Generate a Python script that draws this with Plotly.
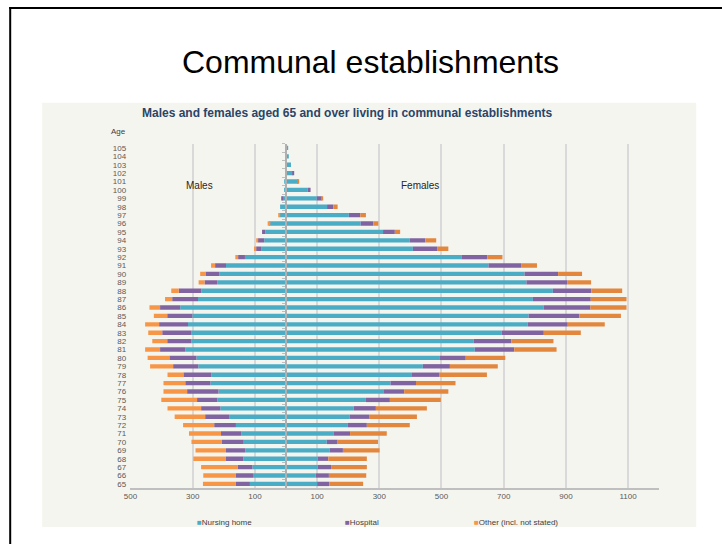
import plotly.graph_objects as go

# Ages 65 .. 105
ages = list(range(65, 106))

# Males (people), by age 65..105
male_nursing = [116, 106, 108, 137, 131, 136, 144, 161, 183, 211, 221, 217, 243, 240, 282, 288,
                324, 304, 305, 315, 301, 340, 283, 272, 221, 214, 193, 132, 80, 70, 66, 51,
                21, 19, 11, 6, 4, 1, 2, 2, 1]
male_hospital = [45, 55, 48, 56, 62, 70, 65, 70, 77, 62, 65, 101, 81, 90, 81, 87,
                 81, 78, 93, 93, 81, 65, 83, 73, 41, 45, 35, 22, 16, 20, 11, 2,
                 0, 0, 3, 0, 0, 0, 0, 0, 0]
male_other = [106, 105, 117, 105, 98, 98, 103, 100, 98, 108, 115, 76, 70, 51, 74, 70,
              48, 48, 45, 45, 43, 34, 23, 24, 19, 17, 13, 9, 7, 4, 0, 6,
              3, 0, 0, 0, 0, 0, 0, 0, 0]

# Females (people), by age 65..105
female_nursing = [100, 95, 102, 102, 140, 131, 154, 199, 204, 218, 257, 315, 336, 405, 440, 495,
                  607, 604, 694, 777, 780, 829, 794, 858, 773, 767, 651, 564, 408, 398, 312, 240,
                  202, 132, 99, 70, 36, 22, 16, 9, 7]
female_hospital = [39, 43, 43, 34, 43, 35, 52, 61, 63, 71, 77, 65, 82, 89, 87, 83,
                   127, 121, 135, 129, 163, 150, 186, 124, 131, 108, 105, 83, 78, 50, 38, 41,
                   37, 20, 16, 9, 2, 3, 0, 0, 0]
female_other = [109, 120, 115, 124, 118, 130, 118, 138, 154, 164, 164, 142, 127, 152, 154, 127,
                136, 135, 119, 119, 134, 116, 115, 99, 77, 77, 51, 49, 36, 35, 17, 16,
                18, 14, 2, 0, 3, 0, 0, 0, 0]

x_ticks = [-500, -300, -100, 100, 300, 500, 700, 900, 1100]
x_ticktext = [str(abs(v)) for v in x_ticks]

C_NURSE = "#4bacc6"
C_HOSP = "#8064a2"
C_OTHER_M = "#f79646"
C_OTHER_F = "#e3873f"
FONT = "Liberation Sans, Arial, sans-serif"

W, H = 722, 545
def px(x):
    # horizontal page position (pixels) -> paper fraction
    return ((x - 5.8) / 0.9917) / W
def py(y):
    return 1 - y / H

fig = go.Figure()

def neg(lst):
    return [-v for v in lst]

series = [
    ("Nursing home", neg(male_nursing), C_NURSE),
    ("Hospital", neg(male_hospital), C_HOSP),
    ("Other (incl. not stated)", neg(male_other), C_OTHER_M),
    ("Nursing home", female_nursing, C_NURSE),
    ("Hospital", female_hospital, C_HOSP),
    ("Other (incl. not stated)", female_other, C_OTHER_F),
]
for name, vals, col in series:
    fig.add_trace(go.Bar(
        y=ages, x=vals, orientation="h", name=name,
        marker=dict(color=col, line=dict(width=0)),
        showlegend=False,
    ))

# helper trace for the central (zero) category axis
fig.add_trace(go.Scatter(x=[None], y=[None], yaxis="y2", showlegend=False,
                         hoverinfo="skip", mode="markers"))

half_ticks = [a - 0.5 for a in ages] + [ages[-1] + 0.5]

x0_dom, x1_dom = px(130), px(659)
x_range = [-501, 1200]
zero_pos = x0_dom + (0 - x_range[0]) / (x_range[1] - x_range[0]) * (x1_dom - x0_dom)

fig.update_layout(
    width=W, height=H,
    margin=dict(l=0, r=0, t=0, b=0),
    paper_bgcolor="white",
    plot_bgcolor="rgba(0,0,0,0)",
    barmode="relative",
    bargap=0.48,
    font=dict(family=FONT, color="#404040"),
    xaxis=dict(
        domain=[x0_dom, x1_dom],
        range=x_range,
        tickmode="array", tickvals=x_ticks, ticktext=x_ticktext,
        showgrid=True, gridcolor="#d9d9d9", gridwidth=1.5,
        showline=True, linecolor="#bfbfbf", linewidth=1.5,
        zeroline=False, ticks="",
        tickfont=dict(size=8, color="#595959", family=FONT),
        fixedrange=True,
    ),
    yaxis=dict(
        domain=[py(489), py(144)],
        range=[64.5, 105.5],
        tickmode="array", tickvals=ages, ticktext=[str(a) for a in ages],
        showgrid=False, zeroline=False, showline=False, ticks="",
        ticklabelstandoff=3,
        tickfont=dict(size=8, color="#595959", family=FONT),
        fixedrange=True,
    ),
    yaxis2=dict(
        overlaying="y", anchor="free", position=zero_pos, side="left",
        range=[64.5, 105.5],
        tickmode="array", tickvals=half_ticks,
        showticklabels=False, ticks="outside", ticklen=3, tickwidth=1,
        tickcolor="#bfbfbf",
        showline=True, linecolor="#b0b0b0", linewidth=1.5,
        showgrid=False, zeroline=False, fixedrange=True,
    ),
    showlegend=False,
)

shapes = [
    dict(type="rect", xref="paper", yref="paper", x0=px(42), x1=px(696),
         y0=py(528), y1=py(103), fillcolor="#f5f5ef", line=dict(width=0), layer="below"),
    dict(type="line", xref="paper", yref="paper", x0=px(10), x1=px(10),
         y0=0, y1=py(7), line=dict(color="black", width=2)),
    dict(type="line", xref="paper", yref="paper", x0=px(9), x1=1,
         y0=py(8), y1=py(8), line=dict(color="black", width=2)),
]
fig.update_layout(shapes=shapes)

ann = [
    dict(text="Communal establishments", x=px(370), y=py(62), font=dict(size=32, color="black", family=FONT)),
    dict(text="<b>Males and females aged 65 and over living in communal establishments</b>",
         x=px(347), y=py(113), font=dict(size=12, color="#2a4468", family=FONT)),
    dict(text="Age", x=px(118), y=py(132), font=dict(size=8, color="#404040", family=FONT)),
    dict(text="Males", x=px(199), y=py(186), font=dict(size=10, color="#262626", family=FONT)),
    dict(text="Females", x=px(420), y=py(186), font=dict(size=10, color="#262626", family=FONT)),
    dict(text='<span style="color:%s">■</span>Nursing home' % C_NURSE, x=px(195), y=py(523),
         xanchor="left", font=dict(size=8, color="#404040", family=FONT)),
    dict(text='<span style="color:%s">■</span>Hospital' % C_HOSP, x=px(343), y=py(523),
         xanchor="left", font=dict(size=8, color="#404040", family=FONT)),
    dict(text='<span style="color:%s">■</span>Other (incl. not stated)' % C_OTHER_M, x=px(472), y=py(523),
         xanchor="left", font=dict(size=8, color="#404040", family=FONT)),
]
for a in ann:
    a.setdefault("xref", "paper")
    a.setdefault("yref", "paper")
    a.setdefault("showarrow", False)
    a.setdefault("xanchor", "center")
    a.setdefault("yanchor", "middle")
fig.update_layout(annotations=ann)

fig.write_html("out.html")
